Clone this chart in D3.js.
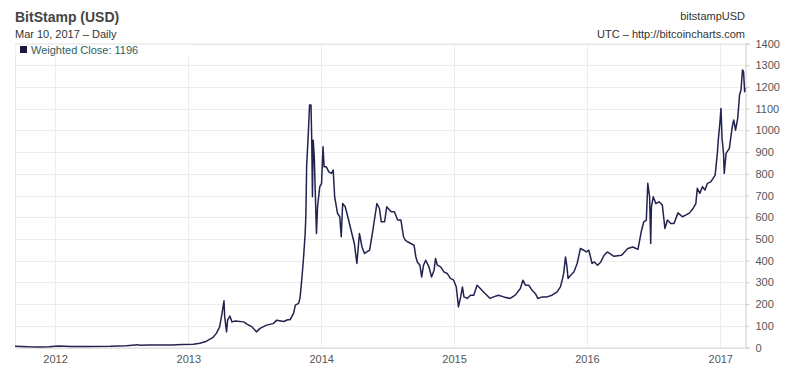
<!DOCTYPE html>
<html lang="en">
  <head>
    <meta charset="utf-8">
    <script src="https://d3js.org/d3.v7.min.js"></script>
    <style>
      body { margin: 0; background: #fff; }
      svg text { font-family: "Liberation Sans", Arial, sans-serif; }
      .grid line { stroke: #ececec; stroke-width: 1; }
      .axis text { font-size: 11px; fill: #555; }
      .axis path, .axis line { stroke: #ccc; }
    </style>
    <title>BitStamp (USD)</title>
  </head>
  <body>
    <svg id="chart" width="800" height="375"></svg>
  </body>
</html>

<script>
    // weighted close
    const dates = [
        "2011-09-13","2011-10-01","2011-10-20","2011-11-18","2011-12-15",
        "2012-01-10","2012-02-15","2012-04-01","2012-06-01","2012-07-15","2012-08-16","2012-08-20",
        "2012-09-15","2012-10-15","2012-11-15","2012-12-15",
        "2013-01-15","2013-02-02","2013-02-20","2013-03-10","2013-03-19","2013-03-28","2013-04-03",
        "2013-04-09","2013-04-11","2013-04-16","2013-04-19","2013-04-25","2013-05-01","2013-05-10",
        "2013-06-02","2013-06-11","2013-06-25","2013-07-07","2013-07-17","2013-08-04","2013-08-22",
        "2013-09-01","2013-09-20","2013-10-01","2013-10-08","2013-10-17","2013-10-22","2013-10-31",
        "2013-11-04","2013-11-09","2013-11-13","2013-11-18","2013-11-20","2013-11-22","2013-11-27",
        "2013-11-30","2013-12-04","2013-12-06","2013-12-08","2013-12-10","2013-12-13","2013-12-19",
        "2013-12-22","2013-12-28",
        "2014-01-02","2014-01-06","2014-01-09","2014-01-15","2014-01-22","2014-01-29","2014-02-03",
        "2014-02-07","2014-02-15","2014-02-21","2014-02-25","2014-03-01","2014-03-08","2014-03-15",
        "2014-03-24","2014-04-02","2014-04-09","2014-04-16","2014-04-23","2014-04-30","2014-05-14",
        "2014-05-23","2014-05-27","2014-06-03","2014-06-10","2014-06-15","2014-06-24","2014-06-30",
        "2014-07-12","2014-07-21","2014-07-30","2014-08-08","2014-08-15","2014-08-20","2014-08-26",
        "2014-09-04","2014-09-13","2014-09-18","2014-09-22","2014-09-29","2014-10-04","2014-10-09",
        "2014-10-15","2014-10-24","2014-10-31","2014-11-07","2014-11-11","2014-11-16","2014-11-25",
        "2014-12-04","2014-12-13","2014-12-22","2014-12-31",
        "2015-01-07","2015-01-13","2015-01-19","2015-01-24","2015-01-28","2015-02-06","2015-02-15",
        "2015-02-24","2015-03-05","2015-03-14","2015-03-23","2015-03-27","2015-04-10","2015-04-19",
        "2015-05-03","2015-05-17","2015-06-04","2015-06-18","2015-07-02","2015-07-09","2015-07-16",
        "2015-07-25","2015-08-03","2015-08-12","2015-08-19","2015-08-31","2015-09-13","2015-09-27",
        "2015-10-11","2015-10-20","2015-10-26","2015-10-29","2015-11-03","2015-11-07","2015-11-10",
        "2015-11-17","2015-11-26","2015-12-05","2015-12-14","2015-12-23","2015-12-30",
        "2016-01-06","2016-01-15","2016-01-21","2016-01-30","2016-02-08","2016-02-17","2016-02-26",
        "2016-03-15","2016-04-05","2016-04-22","2016-05-06","2016-05-20","2016-05-29","2016-06-05",
        "2016-06-12","2016-06-16","2016-06-21","2016-06-24","2016-06-26","2016-07-01","2016-07-08",
        "2016-07-17","2016-07-26","2016-08-02","2016-08-09","2016-08-18","2016-08-27","2016-09-07",
        "2016-09-19","2016-09-28","2016-10-09","2016-10-18","2016-10-26","2016-10-30","2016-11-06",
        "2016-11-13","2016-11-20","2016-11-27","2016-12-06","2016-12-18","2016-12-24","2016-12-27",
        "2016-12-31",
        "2017-01-03","2017-01-06","2017-01-10","2017-01-12","2017-01-17","2017-01-26","2017-02-03",
        "2017-02-07","2017-02-12","2017-02-18","2017-02-23","2017-02-27","2017-03-03","2017-03-06",
        "2017-03-09","2017-03-10"
    ];
    const closes = [
        6, 5, 3.5, 2.3, 3.5,
        6.5, 5, 5, 5.5, 8.5, 13, 10,
        11.5, 12, 11, 13.5,
        15, 20, 29, 47, 65, 95, 150,
        215, 141, 72, 126, 145, 118, 122,
        118, 108, 95, 72, 88, 103, 110,
        126, 120, 128, 128, 157, 195, 203,
        230, 320, 402, 525, 617, 832, 1001,
        1117, 1117, 955, 694, 955, 878, 525,
        648, 740,
        756, 924, 832, 832, 809, 802, 817,
        694, 617, 602, 510, 663, 648, 602,
        540, 479, 387, 525, 463, 433, 448,
        540, 586, 663, 640, 579, 579, 648,
        625, 625, 587, 587, 510, 494, 487,
        479, 471, 417, 394, 379, 325, 379,
        402, 371, 325, 356, 410, 379, 371,
        348, 341, 318, 310,
        279, 187, 233, 279, 233, 226, 241,
        241, 287, 272, 256, 249, 226, 233,
        241, 233, 226, 241, 272, 310, 287,
        287, 264, 249, 226, 233, 233, 241,
        256, 279, 318, 341, 417, 371, 318,
        333, 348, 387, 456, 448, 440,
        448, 387, 394, 379, 394, 425, 440,
        420, 425, 456, 463, 452, 533, 579,
        587, 756, 694, 479, 648, 694, 663,
        671, 656, 548, 587, 571, 571, 620,
        602, 610, 620, 640, 663, 733, 710,
        740, 725, 756, 763, 794, 894, 963,
        1032,
        1101, 963, 894, 802, 894, 917, 1017,
        1048, 1001, 1055, 1163, 1186, 1278, 1270,
        1178, 1196
    ];
    const yTicks = [0, 100, 200, 300, 400, 500, 600, 700, 800, 900, 1000, 1100, 1200, 1300, 1400];
    const xYears = ["2012", "2013", "2014", "2015", "2016", "2017"];

    const parse = d3.timeParse("%Y-%m-%d");
    const data = dates.map((d, i) => ({ date: parse(d), value: closes[i] }));

    const plotLeft = 15, plotRight = 745, plotTop = 43.5, plotBottom = 347.5;
    const svg = d3.select("#chart");

    const x = d3.scaleTime()
        .domain([parse("2011-09-13"), parse("2017-03-10")])
        .range([plotLeft, plotRight]);
    const y = d3.scaleLinear()
        .domain([0, 1400])
        .range([plotBottom, plotTop]);

    // grid
    const grid = svg.append("g").attr("class", "grid");
    grid.selectAll(".h").data(yTicks).enter().append("line")
        .attr("x1", plotLeft).attr("x2", plotRight)
        .attr("y1", d => Math.round(y(d)) + 0.5).attr("y2", d => Math.round(y(d)) + 0.5);
    const yearDates = xYears.map(s => parse(s + "-01-01"));
    grid.selectAll(".v").data(yearDates).enter().append("line")
        .attr("x1", d => Math.round(x(d)) + 0.5).attr("x2", d => Math.round(x(d)) + 0.5)
        .attr("y1", plotTop).attr("y2", plotBottom);

    // bottom and left frame
    svg.append("line")
        .attr("x1", plotLeft).attr("x2", plotRight)
        .attr("y1", plotBottom + 0.5).attr("y2", plotBottom + 0.5)
        .attr("stroke", "#d8d8d8");
    svg.append("line")
        .attr("x1", plotLeft + 0.5).attr("x2", plotLeft + 0.5)
        .attr("y1", plotTop).attr("y2", plotBottom)
        .attr("stroke", "#e6e6e6");

    // y axis on the right
    const yAxis = svg.append("g")
        .attr("class", "axis")
        .attr("transform", `translate(${plotRight + 0.5},0)`)
        .call(d3.axisRight(y).tickValues(yTicks).tickSize(4).tickPadding(6).tickFormat(d3.format("d")));
    yAxis.select(".domain").attr("stroke", "#ddd");

    // x axis labels
    const xAxis = svg.append("g")
        .attr("class", "axis")
        .attr("transform", `translate(0,${plotBottom})`)
        .call(d3.axisBottom(x).tickValues(yearDates).tickSize(0).tickPadding(8).tickFormat(d3.timeFormat("%Y")));
    xAxis.select(".domain").remove();

    // price line
    const line = d3.line()
        .x(d => x(d.date))
        .y(d => y(d.value));
    svg.append("path")
        .datum(data)
        .attr("fill", "none")
        .attr("stroke", "#22234f")
        .attr("stroke-width", 1.5)
        .attr("stroke-linejoin", "round")
        .attr("d", line);

    // legend
    svg.append("rect")
        .attr("x", plotLeft + 0.5).attr("y", plotTop)
        .attr("width", 175).attr("height", 13)
        .attr("fill", "#fff");
    svg.append("line")
        .attr("x1", plotLeft).attr("x2", plotRight)
        .attr("y1", plotTop + 0.5).attr("y2", plotTop + 0.5)
        .attr("stroke", "#e2e2e2");
    svg.append("rect")
        .attr("x", 20).attr("y", 46)
        .attr("width", 7).attr("height", 7)
        .attr("fill", "#1a1a40");
    svg.append("text")
        .attr("x", 31).attr("y", 53.5)
        .attr("font-size", 11)
        .attr("fill", "#2d5e60")
        .text("Weighted Close: " + closes[closes.length - 1]);

    // titles
    svg.append("text")
        .attr("x", 15).attr("y", 22)
        .attr("font-size", 14).attr("font-weight", "bold")
        .attr("fill", "#444")
        .text("BitStamp (USD)");
    svg.append("text")
        .attr("x", 15).attr("y", 38)
        .attr("font-size", 11).attr("fill", "#333")
        .text("Mar 10, 2017 \u2013 Daily");
    svg.append("text")
        .attr("x", 745).attr("y", 20)
        .attr("text-anchor", "end")
        .attr("font-size", 11).attr("fill", "#333")
        .text("bitstampUSD");
    svg.append("text")
        .attr("x", 745).attr("y", 38)
        .attr("text-anchor", "end")
        .attr("font-size", 11).attr("fill", "#333")
        .text("UTC \u2013 http://bitcoincharts.com");
</script>
